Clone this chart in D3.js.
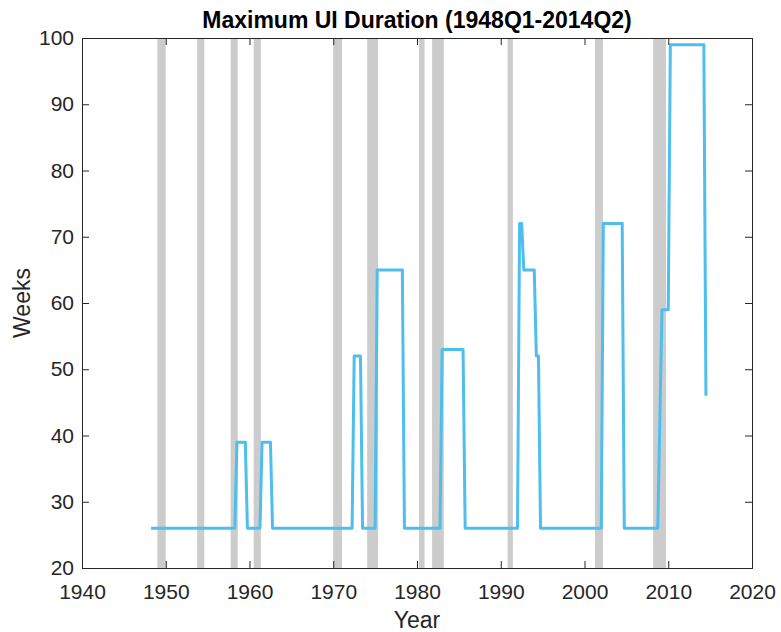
<!DOCTYPE html>
<html>
<head>
<meta charset="utf-8">
<script src="https://cdn.jsdelivr.net/npm/d3@7"></script>
<style>
  body { margin: 0; background: #fff; }
  text { font-family: "Liberation Sans", Arial, sans-serif; fill: #262626; }
</style>
</head>
<body>
<div id="vis"></div>
<script>
// vertices of the max UI duration series (year + quarter/4, weeks)
var dates = [1948.25, 1958.25, 1958.5, 1959.5, 1959.75, 1961.25, 1961.5, 1962.5, 1962.75,
  1972.25, 1972.5, 1973.25, 1973.5, 1975.0, 1975.25, 1978.25, 1978.5,
  1982.75, 1983.0, 1985.5, 1985.75, 1992.0, 1992.25, 1992.5, 1992.75, 1994.0,
  1994.25, 1994.5, 1994.75, 2002.0, 2002.25, 2004.5, 2004.75, 2008.75, 2009.25,
  2010.0, 2010.25, 2014.25, 2014.5];
var weeks = [26, 26, 39, 39, 26, 26, 39, 39, 26,
  26, 52, 52, 26, 26, 65, 65, 26,
  26, 53, 53, 26, 26, 72, 72, 65, 65,
  52, 52, 26, 26, 72, 72, 26, 26, 59,
  59, 99, 99, 46];

// recession shading (start, end)
var recStart = [1949.0, 1953.75, 1957.75, 1960.5, 1970.0, 1974.05, 1980.25, 1981.8, 1990.82, 2001.25, 2008.2];
var recEnd = [1950.0, 1954.6, 1958.6, 1961.35, 1971.05, 1975.35, 1980.9, 1983.2, 1991.45, 2002.2, 2009.73];

var xTicks = [1940, 1950, 1960, 1970, 1980, 1990, 2000, 2010, 2020];
var yTicks = [20, 30, 40, 50, 60, 70, 80, 90, 100];

var width = 781, height = 632;
var margin = { top: 38, left: 82, bottom: 64, right: 29 };
var w = width - margin.left - margin.right;
var h = height - margin.top - margin.bottom;

var svg = d3.select('#vis').append('svg')
  .attr('width', width)
  .attr('height', height);

var g = svg.append('g')
  .attr('transform', 'translate(' + margin.left + ',' + margin.top + ')');

var x = d3.scaleLinear().domain([1940, 2020]).range([0, w]);
var y = d3.scaleLinear().domain([20, 100]).range([h, 0]);

// recession bars
g.append('g')
  .selectAll('rect')
  .data(recStart)
  .enter().append('rect')
  .attr('x', function (d) { return x(d); })
  .attr('width', function (d, i) { return x(recEnd[i]) - x(d); })
  .attr('y', 0)
  .attr('height', h)
  .style('fill', '#cccccc');

// series line
var pts = dates.map(function (d, i) { return [d, weeks[i]]; });
var line = d3.line()
  .x(function (d) { return x(d[0]); })
  .y(function (d) { return y(d[1]); });

g.append('path')
  .datum(pts)
  .attr('d', line)
  .style('fill', 'none')
  .style('stroke', '#4dbeee')
  .style('stroke-width', 3)
  .style('stroke-linejoin', 'round');

// axes: ticks inside, box on all sides
var tickLen = 7;
var axisColor = '#262626';

var xb = g.append('g').attr('transform', 'translate(0,' + h + ')')
  .call(d3.axisBottom(x).tickValues(xTicks).tickSize(-tickLen).tickPadding(16).tickFormat(d3.format('d')));
var xt = g.append('g')
  .call(d3.axisTop(x).tickValues(xTicks).tickSize(-tickLen).tickFormat(''));
var yl = g.append('g')
  .call(d3.axisLeft(y).tickValues(yTicks).tickSize(-tickLen).tickPadding(8));
var yr = g.append('g').attr('transform', 'translate(' + w + ',0)')
  .call(d3.axisRight(y).tickValues(yTicks).tickSize(-tickLen).tickFormat(''));

[xb, xt, yl, yr].forEach(function (a) {
  a.select('.domain').attr('stroke', axisColor).attr('stroke-width', 1);
  a.selectAll('.tick line').attr('stroke', axisColor);
  a.selectAll('.tick text')
    .style('font-size', '21px')
    .style('fill', axisColor);
});

// title and labels
svg.append('text')
  .attr('x', margin.left + w / 2)
  .attr('y', 28)
  .attr('text-anchor', 'middle')
  .style('font-size', '23px')
  .style('font-weight', 'bold')
  .style('fill', '#000')
  .text('Maximum UI Duration (1948Q1-2014Q2)');

svg.append('text')
  .attr('x', margin.left + w / 2)
  .attr('y', 628)
  .attr('text-anchor', 'middle')
  .style('font-size', '23px')
  .text('Year');

svg.append('text')
  .attr('transform', 'translate(30,' + (margin.top + h / 2) + ') rotate(-90)')
  .attr('text-anchor', 'middle')
  .style('font-size', '23px')
  .text('Weeks');
</script>
</body>
</html>
